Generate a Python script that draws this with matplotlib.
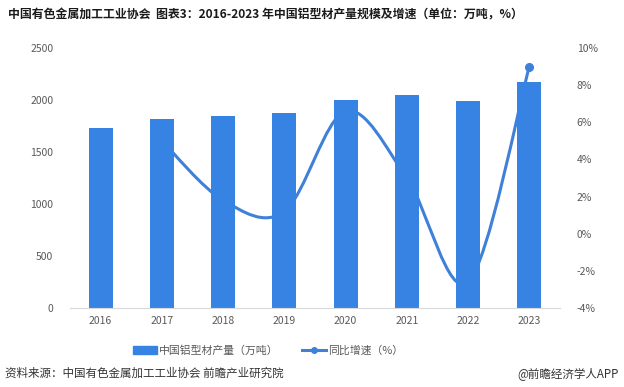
import matplotlib
matplotlib.use("Agg")
import matplotlib.pyplot as plt
from matplotlib.path import Path
from matplotlib.patches import PathPatch
from matplotlib.lines import Line2D
from matplotlib.patches import Patch

plt.rcParams["font.family"] = ["Noto Sans CJK SC", "DejaVu Sans"]

years = ["2016", "2017", "2018", "2019", "2020", "2021", "2022", "2023"]
output = [1730, 1817, 1846, 1878, 2000, 2048, 1990, 2173]  # 万吨
growth_years = [1, 2, 3, 4, 5, 6, 7]  # index into years, 2017..2023
growth = [5.0, 1.8, 1.2, 6.6, 3.0, -2.6, 9.0]  # %
y_left_ticks = [0, 500, 1000, 1500, 2000, 2500]
y_right_ticks = [-4, -2, 0, 2, 4, 6, 8, 10]

BAR = "#3783e3"
LINE = "#3f80d8"
GREY = "#595959"


def smooth_path(xs, ys):
    """Excel-style smoothed line: cubic Bezier through each point."""
    verts = [(xs[0], ys[0])]
    codes = [Path.MOVETO]
    n = len(xs)
    for i in range(n - 1):
        x0, y0 = xs[max(i - 1, 0)], ys[max(i - 1, 0)]
        x1, y1 = xs[i], ys[i]
        x2, y2 = xs[i + 1], ys[i + 1]
        x3, y3 = xs[min(i + 2, n - 1)], ys[min(i + 2, n - 1)]
        c1 = (x1 + (x2 - x0) / 6, y1 + (y2 - y0) / 6)
        c2 = (x2 - (x3 - x1) / 6, y2 - (y3 - y1) / 6)
        verts += [c1, c2, (x2, y2)]
        codes += [Path.CURVE4] * 3
    return Path(verts, codes)


fig = plt.figure(figsize=(6.24, 3.87), dpi=100)
ax = fig.add_axes([0.1122, 0.2041, 0.7852, 0.6719])
ax2 = ax.twinx()
# the growth line sits behind the bars, as in the source chart
ax.set_zorder(ax2.get_zorder() + 1)
ax.patch.set_visible(False)

x = list(range(len(years)))
ax.bar(x, output, width=0.39, color=BAR, zorder=2)
ax.set_xlim(-0.5, len(years) - 0.5)
ax.set_ylim(0, 2500)
ax.set_yticks(y_left_ticks)
ax.set_xticks(x)
ax.set_xticklabels(years)

ax2.set_ylim(-4, 10)
ax2.set_yticks(y_right_ticks)
ax2.set_yticklabels([f"{t}%" for t in y_right_ticks])
ax2.add_patch(PathPatch(smooth_path(growth_years, growth), fill=False,
                        edgecolor=LINE, lw=2.2, zorder=3))
ax2.plot(growth_years[-1], growth[-1], "o", color=LINE, ms=5.5, zorder=4)

for a in (ax, ax2):
    for s in a.spines.values():
        s.set_visible(False)
    a.tick_params(length=0, labelsize=7.5, colors=GREY)
ax.spines["bottom"].set_visible(True)
ax.spines["bottom"].set_color("#d9d9d9")
ax.tick_params(axis="y", pad=12)
ax.tick_params(axis="x", pad=6)
ax2.tick_params(axis="y", pad=12)

fig.text(0.013, 0.962, "中国有色金属加工工业协会  图表3：2016-2023 年中国铝型材产量规模及增速（单位：万吨，%）",
         fontsize=8.6, fontweight="bold", color="#1a1a1a", va="center")

handles = [Patch(color=BAR),
           Line2D([], [], color=LINE, lw=2.2, marker="o", ms=4)]
fig.legend(handles, ["中国铝型材产量（万吨）", "同比增速（%）"], loc="center",
           bbox_to_anchor=(0.43, 0.095), ncol=2, frameon=False, fontsize=7.8,
           handlelength=2.2, handletextpad=0.2, columnspacing=2.2,
           labelcolor=GREY)

fig.text(0.008, 0.036, "资料来源：中国有色金属加工工业协会 前瞻产业研究院",
         fontsize=8.3, color="#333333", va="center")
fig.text(0.992, 0.036, "@前瞻经济学人APP", fontsize=8.3, color="#333333",
         va="center", ha="right")

fig.savefig("out.png", dpi=100)
